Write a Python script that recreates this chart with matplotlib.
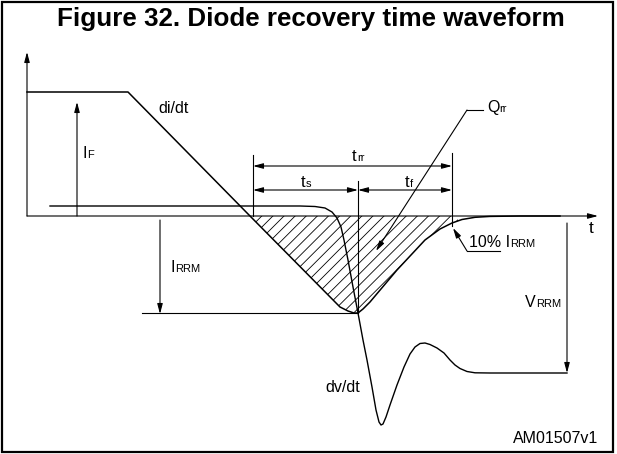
import numpy as np
import matplotlib
matplotlib.use("Agg")
import matplotlib.pyplot as plt
from matplotlib.patches import FancyArrowPatch, Rectangle

plt.rcParams['font.family'] = ['Liberation Sans', 'DejaVu Sans']
plt.rcParams['hatch.linewidth'] = 0.6

# ---- data (diagram coordinates in pixel space) ----
title = "Figure 32. Diode recovery time waveform"

# current waveform i(t)
i_x = [27, 128, 250, 340, 348, 354, 358, 363, 370, 397, 425, 440, 452, 462, 475, 490, 520, 560]
i_y = [92, 92, 216, 307, 311, 313, 313, 309, 302, 270, 240, 229, 223, 219.5, 217.3, 216.4, 216, 216]

# voltage waveform v(t)
v_x = [50, 300, 315, 325, 332, 337, 341, 344, 348, 353, 358, 363, 367, 372, 376, 379, 381, 383,
       386, 390, 397, 404, 410, 415, 420, 425, 430, 437, 444, 450, 455, 460, 467, 475, 490, 567]
v_y = [206, 206, 206.5, 208, 212, 218, 227, 240, 260, 287, 313, 340, 360, 387, 410, 422, 425, 424,
       417, 405, 385, 367, 354, 347, 343.5, 343, 344.5, 348, 353, 360, 365, 368.5, 371.5, 372.8, 373, 373]

hatch_range = [253, 458]

# labels: (x, baseline_y, main, sub, size, subsize)
labels = [
    (158, 113, "di/dt", "", 11.5, 8),
    (82, 158, "I", "F", 11.5, 8),
    (170, 272, "I", "RRM", 11.5, 8),
    (352, 161, "t", "rr", 12, 8),
    (301, 187, "t", "s", 12, 8),
    (405, 187, "t", "f", 12, 8),
    (487, 112, "Q", "rr", 11.5, 8),
    (469, 247, "10% I", "RRM", 11.5, 8),
    (525, 307, "V", "RRM", 11.5, 8),
    (325, 392, "dv/dt", "", 11.5, 8),
    (513, 443, "AM01507v1", "", 11.5, 8),
    (589, 233, "t", "", 12.5, 8),
]

W, H = 617, 454
fig = plt.figure(figsize=(W / 100, H / 100), dpi=100)
ax = fig.add_axes([0, 0, 1, 1])
ax.set_xlim(0, W)
ax.set_ylim(H, 0)
ax.axis('off')

lw = 0.8
k = 'black'

# frame
ax.add_patch(Rectangle((1.5, 1.5), 611.5, 450.5, fill=False, lw=1.6, ec=k))
ax.text(311, 26, title, ha='center', va='baseline', fontsize=18.7, fontweight='bold')

def arrow(p0, p1, style='-|>', lw_=lw):
    a = FancyArrowPatch(p0, p1, arrowstyle=f"{style},head_length=6,head_width=1.6",
                        lw=lw_, color=k, shrinkA=0, shrinkB=0, mutation_scale=1)
    ax.add_patch(a)

# axes
arrow((27, 216), (27, 52))
arrow((27, 216), (598, 216))

# hatch region
hx = np.linspace(hatch_range[0], hatch_range[1], 300)
hy = np.interp(hx, i_x, i_y)
ax.fill_between(hx, 216, hy, facecolor='none', edgecolor=k, hatch='///', lw=0)

# waveforms
ax.plot(i_x, i_y, color=k, lw=1.1, solid_joinstyle='round')
ax.plot(v_x, v_y, color=k, lw=1.0, solid_joinstyle='round')

# dimension lines
ax.plot([253, 253], [155, 216], color=k, lw=lw)
ax.plot([452, 452], [153, 226], color=k, lw=lw)
ax.plot([358, 358], [181, 313], color=k, lw=lw)
arrow((253, 166), (452, 166), style='<|-|>')
arrow((253, 190), (358, 190), style='<|-|>')
arrow((358, 190), (452, 190), style='<|-|>')

# IF
arrow((77, 216), (77, 102))
# IRRM
ax.plot([142, 358], [313, 313], color=k, lw=lw)
arrow((160, 220), (160, 314))
# VRRM
arrow((567, 223), (567, 373))

# Qrr leader
ax.plot([483, 467], [110, 110], color=k, lw=lw)
arrow((467, 110), (376, 251))
# 10% IRRM leader
ax.plot([500, 467], [251, 251], color=k, lw=lw)
arrow((467, 251), (453, 228))

# labels
fig.canvas.draw()
renderer = fig.canvas.get_renderer()
inv = ax.transData.inverted()
for x, y, main, sub, size, subsize in labels:
    t = ax.text(x, y, main, ha='left', va='baseline', fontsize=size)
    if sub:
        bb = t.get_window_extent(renderer)
        x1 = inv.transform((bb.x1, bb.y0))[0]
        ax.text(x1 + 0.3, y, sub, ha='left', va='baseline', fontsize=subsize)

fig.savefig("out.png", dpi=100)
